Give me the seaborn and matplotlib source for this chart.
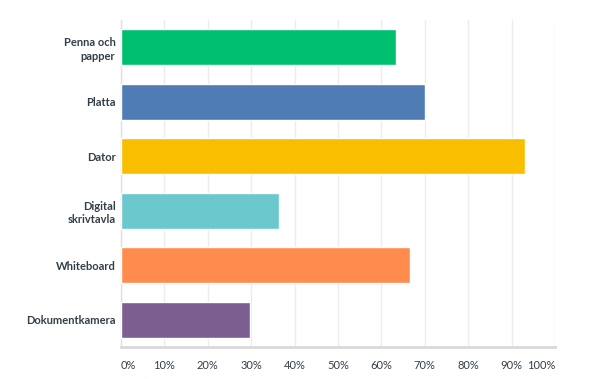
import matplotlib
matplotlib.use("Agg")
import matplotlib.pyplot as plt
import seaborn as sns
import pandas as pd

categories = ["Penna och\npapper", "Platta", "Dator", "Digital\nskrivtavla", "Whiteboard", "Dokumentkamera"]
values = [63.3, 70.0, 93.0, 36.4, 66.5, 29.7]
colors = ["#00BF6F", "#507CB6", "#F9BE00", "#6BC8CD", "#FF8B4F", "#7D5E90"]
ticks = [0, 10, 20, 30, 40, 50, 60, 70, 80, 90, 100]
tick_labels = [f"{t}%" for t in ticks]

sns.set_style("white")
plt.rcParams["font.family"] = ["Lato", "DejaVu Sans"]

df = pd.DataFrame({"cat": categories, "val": values})

fig = plt.figure(figsize=(6.07, 3.79), dpi=100)
ax = fig.add_axes([0.1993, 0.0844, 0.715, 0.8626])

sns.barplot(data=df, x="val", y="cat", hue="cat", palette=colors, legend=False,
            width=0.66, saturation=1, ax=ax, zorder=3)

ax.set_xlim(0, 100)
ax.set_ylim(5.5, -0.5)
ax.set_xticks(ticks)
ax.set_xticklabels(tick_labels, fontsize=8, color="#333e48")
for i, lbl in enumerate(ax.get_xticklabels()):
    if i == 0:
        lbl.set_horizontalalignment("left")
    elif i == len(ticks) - 1:
        lbl.set_horizontalalignment("right")
ax.tick_params(axis="x", length=0, pad=9)
ax.tick_params(axis="y", length=0, pad=4)
ax.set_yticks(range(len(categories)))
ax.set_yticklabels(categories, fontsize=8, fontweight="bold", color="#333e48",
                   linespacing=1.3, multialignment="right")

ax.grid(axis="x", color="#ececec", linewidth=1, zorder=0)
ax.set_xlabel("")
ax.set_ylabel("")
for s in ["top", "right"]:
    ax.spines[s].set_visible(False)
ax.spines["left"].set_color("#e0e0e0")
ax.spines["left"].set_linewidth(1)
ax.spines["bottom"].set_color("#d9d9d9")
ax.spines["bottom"].set_linewidth(2)

fig.savefig("out.png", dpi=100)
